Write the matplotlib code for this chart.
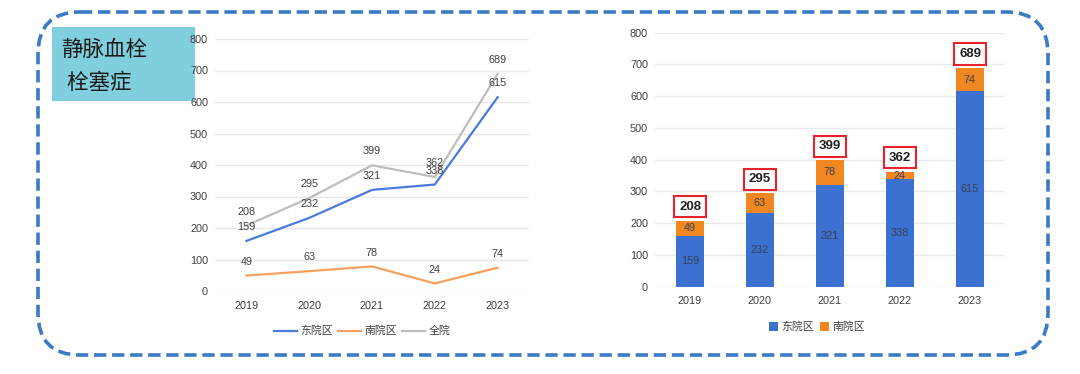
import matplotlib.pyplot as plt
from matplotlib.patches import FancyBboxPatch, Rectangle
import numpy as np

plt.rcParams['font.family'] = ['Liberation Sans', 'Noto Sans CJK SC', 'DejaVu Sans']

# === Data ===
years = ['2019', '2020', '2021', '2022', '2023']
east = [159, 232, 321, 338, 615]
south = [49, 63, 78, 24, 74]
total = [208, 295, 399, 362, 689]
series_names = ['东院区', '南院区', '全院']
title_lines = ['静脉血栓', ' 栓塞症']

# === Colours ===
c_east_line = '#4a7bdc'
c_south_line = '#f5a15e'
c_total_line = '#bdbdbd'
c_east_bar = '#3b72d1'
c_south_bar = '#f08720'
c_text = '#404040'
c_grid = '#e9e9e9'
fs = 7.8

W, H = 1080, 374
fig = plt.figure(figsize=(W / 100, H / 100), dpi=100)

# background canvas in pixel units for border and title box
bg = fig.add_axes([0, 0, 1, 1])
bg.set_xlim(0, W)
bg.set_ylim(H, 0)
bg.axis('off')
border = FancyBboxPatch((38, 12), 1010, 343, boxstyle='round,pad=0,rounding_size=42',
                        fill=False, edgecolor='#3b7ac4', linewidth=2.6,
                        linestyle=(0, (3.4, 1.6)))
bg.add_patch(border)
bg.add_patch(Rectangle((52, 27), 143, 74, facecolor='#80cfde', edgecolor='none'))
bg.text(61, 50, title_lines[0], fontsize=15.5, va='center', ha='left', color='#1a1a1a')
bg.text(61, 83, title_lines[1], fontsize=15.5, va='center', ha='left', color='#1a1a1a')


def style_axis(ax):
    ax.set_ylim(0, 800)
    ax.set_yticks(np.arange(0, 801, 100))
    ax.set_xlim(-0.5, len(years) - 0.5)
    ax.set_xticks(range(len(years)))
    ax.set_xticklabels(years)
    ax.grid(axis='y', color=c_grid, linewidth=1)
    ax.set_axisbelow(True)
    for s in ax.spines.values():
        s.set_visible(False)
    ax.tick_params(length=0, labelsize=fs, colors=c_text)
    ax.tick_params(axis='y', pad=5)
    ax.tick_params(axis='x', pad=7)


# === Left: line chart ===
ax1 = fig.add_axes([215 / W, (H - 291) / H, 314 / W, 252 / H])
style_axis(ax1)
x = np.arange(len(years))
for vals, col, name in [(east, c_east_line, series_names[0]),
                        (south, c_south_line, series_names[1]),
                        (total, c_total_line, series_names[2])]:
    ax1.plot(x, vals, color=col, linewidth=1.6, label=name)
    for xi, v in zip(x, vals):
        ax1.annotate(str(v), (xi, v), xytext=(0, 10), textcoords='offset points',
                     ha='center', va='center', fontsize=fs, color=c_text)
ax1.legend(loc='center', bbox_to_anchor=(362 / W, (H - 331) / H),
           bbox_transform=fig.transFigure, ncol=3, frameon=False,
           fontsize=fs, handlelength=2.2, columnspacing=0.4, handletextpad=0.3,
           labelcolor=c_text)

# === Right: stacked bar chart ===
ax2 = fig.add_axes([655 / W, (H - 286.7) / H, 350 / W, 254 / H])
style_axis(ax2)
ax2.bar(x, east, width=0.4, color=c_east_bar, label=series_names[0])
ax2.bar(x, south, width=0.4, bottom=east, color=c_south_bar, label=series_names[1])
for xi, e, s, t in zip(x, east, south, total):
    ax2.text(xi, e / 2, str(e), ha='center', va='center', fontsize=fs, color='#3a3f55')
    ax2.text(xi, e + s / 2, str(s), ha='center', va='center', fontsize=fs, color='#3a3f55')
    ax2.annotate(str(t), (xi, t), xytext=(0, 10), textcoords='offset points',
                 ha='center', va='center', fontsize=9.5, fontweight='bold', color='#222222',
                 bbox=dict(boxstyle='square,pad=0.35', facecolor='white',
                           edgecolor='#e8222c', linewidth=1.5))
ax2.legend(loc='center', bbox_to_anchor=(817 / W, (H - 327) / H),
           bbox_transform=fig.transFigure, ncol=2, frameon=False,
           fontsize=fs, handlelength=0.8, handleheight=0.8, columnspacing=0.6,
           handletextpad=0.3, labelcolor=c_text)

fig.savefig('out.png', dpi=100)
